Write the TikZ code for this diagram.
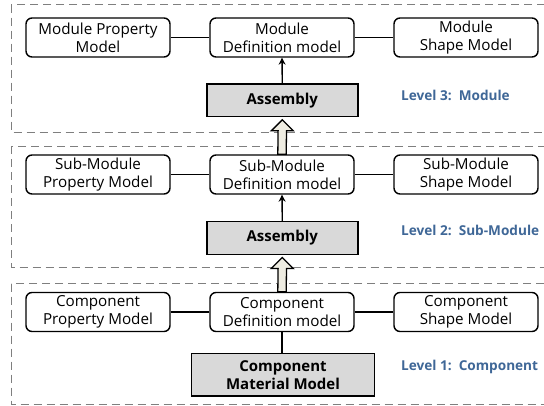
\documentclass[tikz,border=0pt]{standalone}
\usepackage{fontspec}
\setmainfont{Open Sans}
\usetikzlibrary{arrows.meta,calc}
\definecolor{levelblue}{HTML}{3F6797}
\definecolor{boxgray}{HTML}{D9D9D9}
\definecolor{arrowfill}{HTML}{EEECE1}
\definecolor{dashgray}{HTML}{7F7F7F}
\tikzset{
  model/.style={draw, line width=1.4pt, rounded corners=6pt, minimum width=144pt,
    minimum height=39pt, align=center, inner sep=0pt,
    font=\fontsize{15.2}{18}\selectfont},
  asm/.style={draw, line width=1.4pt, fill=boxgray, align=center, inner sep=0pt,
    font=\fontsize{15}{18}\selectfont\bfseries},
  level/.style={draw, dash pattern=on 8pt off 5pt, dashgray, line width=1pt},
  lvltext/.style={text=levelblue, anchor=west, inner sep=0pt,
    font=\fontsize{13.6}{16}\selectfont\bfseries},
  link/.style={line width=1.5pt},
  up/.style={line width=1.4pt, -{Stealth[length=7pt,width=7pt]}},
  bigarr/.style={draw, line width=1.3pt, fill=arrowfill, line join=miter}
}
\begin{document}
\begin{tikzpicture}[x=1pt,y=-1pt]
\useasboundingbox (0,0) rectangle (544,405);
\begin{scope}
\clip (0,0) rectangle (544,405);
% level frames
\draw[level] (11,4.5) rectangle (560,132);
\draw[level] (11,146) rectangle (560,267.5);
\draw[level] (11,283.5) rectangle (560,404);
\end{scope}

% Level 3: Module
\node[model] (mp) at (98,37.5) {Module Property\\Model};
\node[model] (md) at (282,37.5) {Module\\Definition model};
\node[model] (ms) at (466,37.5) {Module\\Shape Model};
\node[asm, minimum width=151pt, minimum height=32.6pt] (ma) at (282.3,100.3) {Assembly};
\node[lvltext] (l3) at (401,95) {Level 3:\ \ Module};

% Level 2: Sub-Module
\node[model] (sp) at (98,174.5) {Sub-Module\\Property Model};
\node[model] (sd) at (282,174.5) {Sub-Module\\Definition model};
\node[model] (ss) at (466,174.5) {Sub-Module\\Shape Model};
\node[asm, minimum width=151pt, minimum height=32.6pt] (sa) at (282.3,238) {Assembly};
\node[lvltext] (l2) at (401,230) {Level 2:\ \ Sub-Module};

% Level 1: Component
\node[model] (cp) at (98,312) {Component\\Property Model};
\node[model] (cd) at (282,312) {Component\\Definition model};
\node[model] (cs) at (466,312) {Component\\Shape Model};
\node[asm, minimum width=182.7pt, minimum height=42.7pt] (cm) at (283,374.7) {Component\\Material Model};
\node[lvltext] (l1) at (401,367.3) {Level 1:\ \ Component};

% links inside each level
\draw[link] (mp) -- (md);
\draw[link] (md) -- (ms);
\draw[link] (sp) -- (sd);
\draw[link] (sd) -- (ss);
\draw[link] (cp) -- (cd);
\draw[link] (cd) -- (cs);
\draw[link] (cd.south) -- (cd.south |- cm.north);

% assembly feeds the definition model
\draw[up] (ma.north) -- (md.south);
\draw[up] (sa.north) -- (sd.south);

% hollow arrows between levels
\draw[bigarr] ($(sd.north)+(-4.2,0)$) -- ($(ma.south)+(-4.2,13.5)$)
  -- ($(ma.south)+(-11,13.5)$) -- ($(ma.south)+(0,2.5)$)
  -- ($(ma.south)+(11,13.5)$) -- ($(ma.south)+(4.2,13.5)$)
  -- ($(sd.north)+(4.2,0)$) -- cycle;
\draw[bigarr] ($(cd.north)+(-4.2,0)$) -- ($(sa.south)+(-4.2,13.5)$)
  -- ($(sa.south)+(-11,13.5)$) -- ($(sa.south)+(0,2.5)$)
  -- ($(sa.south)+(11,13.5)$) -- ($(sa.south)+(4.2,13.5)$)
  -- ($(cd.north)+(4.2,0)$) -- cycle;
\end{tikzpicture}
\end{document}
